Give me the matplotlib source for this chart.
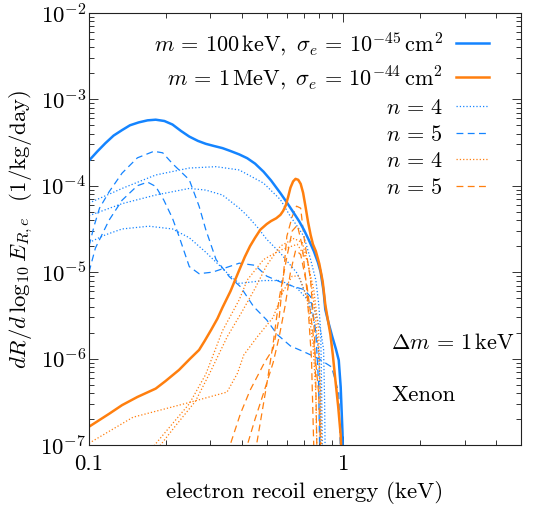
import numpy as np
import matplotlib
matplotlib.use("Agg")
import matplotlib.pyplot as plt
from matplotlib.ticker import LogLocator, NullFormatter

plt.rcParams["font.family"] = "serif"
plt.rcParams["font.serif"] = ["cmr10"]
plt.rcParams["mathtext.fontset"] = "cm"
plt.rcParams["axes.formatter.use_mathtext"] = True

blue = "#1484ff"
orange = "#ff7f0e"

# total rates
x_blue = [0.1, 0.108, 0.116, 0.125, 0.135, 0.145, 0.157, 0.17, 0.183, 0.198, 0.213, 0.23, 0.248,
          0.268, 0.288, 0.31, 0.335, 0.36, 0.39, 0.419, 0.45, 0.486, 0.52, 0.566, 0.6, 0.64, 0.67,
          0.70, 0.73, 0.766, 0.795, 0.815, 0.837, 0.85, 0.875, 0.905, 0.935, 0.96, 0.977, 0.993, 1.0]
y_blue = [1.95e-4, 2.5e-4, 3.1e-4, 3.8e-4, 4.4e-4, 5.0e-4, 5.4e-4, 5.7e-4, 5.8e-4, 5.6e-4, 5.1e-4,
          4.3e-4, 3.7e-4, 3.3e-4, 3.05e-4, 2.88e-4, 2.72e-4, 2.52e-4, 2.3e-4, 2.08e-4, 1.8e-4, 1.45e-4,
          1.15e-4, 8.2e-5, 6.4e-5, 4.8e-5, 3.9e-5, 3.1e-5, 2.4e-5, 1.75e-5, 1.3e-5, 1.0e-5, 6e-6,
          3.7e-6, 2.6e-6, 1.8e-6, 1.3e-6, 9.6e-7, 4.7e-7, 1.4e-7, 5e-8]

x_orange = [0.1, 0.12, 0.135, 0.155, 0.183, 0.2, 0.226, 0.25, 0.271, 0.285, 0.302, 0.32, 0.335, 0.36,
            0.39, 0.41, 0.43, 0.45, 0.472, 0.5, 0.52, 0.545, 0.566, 0.58, 0.594, 0.607, 0.62, 0.635,
            0.649, 0.665, 0.68, 0.695, 0.71, 0.727, 0.744, 0.76, 0.78, 0.805, 0.83, 0.85, 0.87, 0.89,
            0.91, 0.932, 0.955, 0.977, 0.99]
y_orange = [1.63e-7, 2.3e-7, 2.9e-7, 3.6e-7, 4.5e-7, 5.5e-7, 7.4e-7, 1.0e-6, 1.26e-6, 1.6e-6, 2.14e-6,
            2.9e-6, 3.9e-6, 6e-6, 1.06e-5, 1.5e-5, 2.0e-5, 2.5e-5, 3.1e-5, 3.6e-5, 3.9e-5, 4.2e-5,
            4.6e-5, 5.1e-5, 5.9e-5, 7.4e-5, 9.5e-5, 1.12e-4, 1.2e-4, 1.17e-4, 1.05e-4, 8.3e-5, 5.8e-5,
            3.8e-5, 2.7e-5, 2.1e-5, 1.75e-5, 1.25e-5, 7.8e-6, 4.2e-6, 2.8e-6, 1.9e-6, 1.1e-6, 5.5e-7,
            2.8e-7, 1.3e-7, 5e-8]

# n = 4 contributions, m = 100 keV
x_b4a = [0.1, 0.135, 0.183, 0.248, 0.316, 0.39, 0.486, 0.566, 0.62, 0.659, 0.70, 0.744, 0.78, 0.80,
         0.815, 0.822, 0.83]
y_b4a = [6.3e-5, 9.3e-5, 1.33e-4, 1.6e-4, 1.66e-4, 1.52e-4, 1.07e-4, 6.9e-5, 4.4e-5, 3.4e-5, 2.6e-5,
         1.4e-5, 8.1e-6, 4.4e-6, 2.1e-6, 5e-7, 5e-8]
x_b4b = [0.1, 0.135, 0.183, 0.248, 0.288, 0.335, 0.39, 0.419, 0.46, 0.5, 0.566, 0.659, 0.72, 0.766,
         0.80, 0.81, 0.815]
y_b4b = [4.5e-5, 6.2e-5, 7.8e-5, 9.3e-5, 8.9e-5, 7.8e-5, 5.5e-5, 4.5e-5, 3.3e-5, 2.4e-5, 1.66e-5,
         9.7e-6, 5.2e-6, 2.8e-6, 1.27e-6, 4e-7, 5e-8]
x_b4c = [0.1, 0.116, 0.135, 0.172, 0.213, 0.248, 0.288, 0.356, 0.39, 0.486, 0.566, 0.659, 0.766,
         0.815, 0.837, 0.845, 0.85]
y_b4c = [2.2e-5, 2.7e-5, 3.16e-5, 3.4e-5, 3.16e-5, 2.5e-5, 1.7e-5, 9.3e-6, 7.4e-6, 8e-6, 8e-6, 6.5e-6,
         4e-6, 2.1e-6, 1.27e-6, 3e-7, 5e-8]

# n = 5 contributions, m = 100 keV
x_b5a = [0.1, 0.105, 0.11, 0.12, 0.135, 0.155, 0.18, 0.195, 0.213, 0.248, 0.271, 0.288, 0.316, 0.356,
         0.394, 0.444, 0.5, 0.55, 0.62, 0.7, 0.8, 0.9, 0.96, 0.98]
y_b5a = [2e-5, 3.5e-5, 5.5e-5, 8.5e-5, 1.4e-4, 2.1e-4, 2.5e-4, 2.4e-4, 1.8e-4, 1.17e-4, 5.8e-5, 3.1e-5,
         1.4e-5, 8.9e-6, 6.8e-6, 4e-6, 2.8e-6, 1.9e-6, 1.4e-6, 1.2e-6, 1e-6, 8e-7, 4e-7, 5e-8]
x_b5b = [0.1, 0.106, 0.12, 0.135, 0.155, 0.17, 0.183, 0.197, 0.213, 0.226, 0.248, 0.271, 0.306, 0.356,
         0.39, 0.45, 0.5, 0.566, 0.64, 0.70, 0.744, 0.78, 0.8, 0.81]
y_b5b = [1e-5, 1.9e-5, 4e-5, 6.8e-5, 1.0e-4, 1.1e-4, 9.8e-5, 6.8e-5, 4.2e-5, 2.6e-5, 1.16e-5, 9.6e-6,
         1.0e-5, 1.16e-5, 1.27e-5, 1.2e-5, 9e-6, 7.7e-6, 6.8e-6, 6.3e-6, 5.2e-6, 2e-6, 5e-7, 5e-8]

# n = 4 contributions, m = 1 MeV
x_o4a = [0.1, 0.149, 0.243, 0.349, 0.384, 0.406, 0.46, 0.53, 0.58, 0.63, 0.67, 0.72, 0.76, 0.78, 0.79]
y_o4a = [1.05e-7, 2.1e-7, 3.06e-7, 4.1e-7, 6.8e-7, 1.1e-6, 1.8e-6, 3e-6, 6e-6, 9e-6, 9e-6, 5e-6,
         1.5e-6, 4e-7, 5e-8]
x_o4b = [0.17, 0.207, 0.248, 0.288, 0.335, 0.39, 0.419, 0.486, 0.566, 0.659, 0.72, 0.766, 0.8, 0.81, 0.82]
y_o4b = [8e-8, 1.6e-7, 3e-7, 6.6e-7, 2.1e-6, 4.8e-6, 8.1e-6, 1.4e-5, 1.8e-5, 2.1e-5, 1.4e-5, 6.2e-6,
         2.1e-6, 5e-7, 5e-8]
x_o4c = [0.18, 0.22, 0.262, 0.3, 0.35, 0.40, 0.45, 0.5, 0.566, 0.64, 0.69, 0.73, 0.77, 0.8, 0.815, 0.825]
y_o4c = [8e-8, 1.7e-7, 3.2e-7, 7e-7, 1.8e-6, 3.5e-6, 6.5e-6, 1.2e-5, 2.0e-5, 2.45e-5, 2.2e-5, 1.2e-5,
         4e-6, 1.2e-6, 4e-7, 5e-8]

# n = 5 contributions, m = 1 MeV
x_o5a = [0.35, 0.394, 0.43, 0.49, 0.53, 0.56, 0.584, 0.6, 0.63, 0.655, 0.68, 0.7, 0.72, 0.744, 0.77,
         0.78, 0.79]
y_o5a = [8e-8, 2.3e-7, 4.3e-7, 9e-7, 1.3e-6, 3e-6, 1.06e-5, 2.6e-5, 4.4e-5, 5.8e-5, 5.5e-5, 2.6e-5,
         1.5e-5, 8.1e-6, 2e-6, 5e-7, 5e-8]
x_o5b = [0.41, 0.45, 0.486, 0.53, 0.56, 0.59, 0.62, 0.65, 0.68, 0.72, 0.76, 0.8, 0.82]
y_o5b = [8e-8, 2e-7, 4e-7, 9e-7, 1.8e-6, 4e-6, 1e-5, 1.8e-5, 1.6e-5, 7e-6, 2e-6, 4e-7, 5e-8]
x_o5c = [0.45, 0.5, 0.53, 0.56, 0.6, 0.63, 0.66, 0.69, 0.72, 0.75, 0.77]
y_o5c = [8e-8, 5e-7, 1.5e-6, 5e-6, 1.5e-5, 3e-5, 3.5e-5, 2e-5, 6e-6, 1e-6, 5e-8]

fig = plt.figure(figsize=(5.36, 5.11), dpi=100)
ax = fig.add_axes([0.166, 0.129, 0.806, 0.846])

fs = 16.5
lw_thin = 0.9
dash = (0, (5.5, 3.5))

h_b4, = ax.plot(x_b4a, y_b4a, color=blue, lw=lw_thin, ls=":")
ax.plot(x_b4b, y_b4b, color=blue, lw=lw_thin, ls=":")
ax.plot(x_b4c, y_b4c, color=blue, lw=lw_thin, ls=":")
h_b5, = ax.plot(x_b5a, y_b5a, color=blue, lw=lw_thin, ls=dash)
ax.plot(x_b5b, y_b5b, color=blue, lw=lw_thin, ls=dash)
h_o4, = ax.plot(x_o4a, y_o4a, color=orange, lw=lw_thin, ls=":")
ax.plot(x_o4b, y_o4b, color=orange, lw=lw_thin, ls=":")
ax.plot(x_o4c, y_o4c, color=orange, lw=lw_thin, ls=":")
h_o5, = ax.plot(x_o5a, y_o5a, color=orange, lw=lw_thin, ls=dash)
ax.plot(x_o5b, y_o5b, color=orange, lw=lw_thin, ls=dash)
ax.plot(x_o5c, y_o5c, color=orange, lw=lw_thin, ls=dash)
h_b, = ax.plot(x_blue, y_blue, color=blue, lw=1.8)
h_o, = ax.plot(x_orange, y_orange, color=orange, lw=1.8)

ax.set_xscale("log")
ax.set_yscale("log")
ax.set_xlim(0.1, 5)
ax.set_ylim(1e-7, 1e-2)

ax.set_xticks([0.1, 1])
ax.set_xticklabels(["0.1", "1"])
ax.xaxis.set_minor_locator(LogLocator(subs=np.arange(2, 10)))
ax.xaxis.set_minor_formatter(NullFormatter())
ax.yaxis.set_major_locator(LogLocator(numticks=10))
ax.yaxis.set_minor_locator(LogLocator(subs=np.arange(2, 10), numticks=20))
ax.yaxis.set_minor_formatter(NullFormatter())
ax.tick_params(which="both", direction="in", top=True, right=True, labelsize=fs, width=0.7,
               color="#333333")
ax.tick_params(which="major", length=6.5)
ax.tick_params(which="minor", length=3.5)
ax.tick_params(axis="x", pad=7)
ax.tick_params(axis="y", pad=2)
for s in ax.spines.values():
    s.set_linewidth(0.8)
    s.set_color("#222222")

ax.set_xlabel("electron recoil energy (keV)", fontsize=fs, labelpad=5)
ax.set_ylabel(r"$dR/d\,\log_{10}E_{R,e}$  (1/kg/day)", fontsize=fs, labelpad=4)

handles = [h_b, h_o, h_b4, h_b5, h_o4, h_o5]
labels = [r"$m\,=\,100\,\mathrm{keV},\ \sigma_e\,=\,10^{-45}\,\mathrm{cm}^2$",
          r"$m\,=\,1\,\mathrm{MeV},\ \sigma_e\,=\,10^{-44}\,\mathrm{cm}^2$",
          r"$n\,=\,4$", r"$n\,=\,5$", r"$n\,=\,4$", r"$n\,=\,5$"]
ax.legend(handles, labels, loc="upper right", bbox_to_anchor=(0.925, 0.96), frameon=False,
          fontsize=16, markerfirst=False, handlelength=1.45, handletextpad=0.6,
          labelspacing=0.3, borderaxespad=0.0, borderpad=0.0)

ax.text(0.70, 0.236, r"$\Delta m\,=\,1\,\mathrm{keV}$", transform=ax.transAxes, fontsize=16,
        va="center")
ax.text(0.70, 0.116, "Xenon", transform=ax.transAxes, fontsize=fs, va="center")

fig.savefig("out.png", dpi=100)
